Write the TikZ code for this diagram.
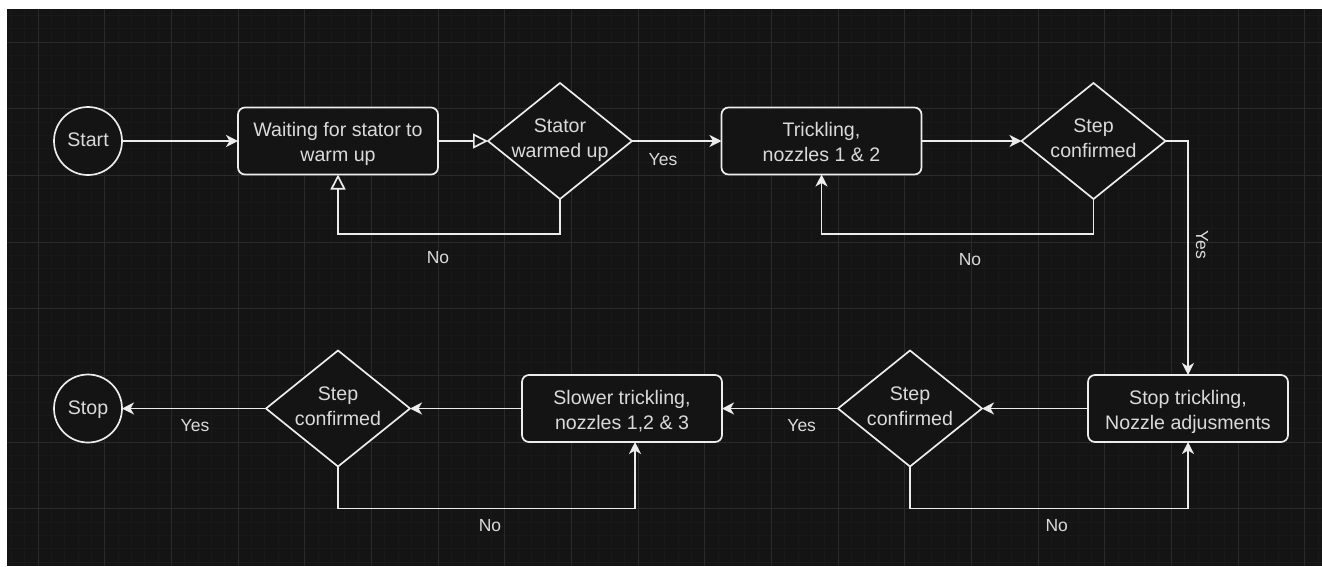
\documentclass[tikz,border=0pt]{standalone}
\usepackage{fontspec}
\setmainfont{Liberation Sans}
\usetikzlibrary{shapes.geometric,arrows.meta,calc}
\definecolor{bg}{RGB}{20,20,20}
\definecolor{gmin}{RGB}{25,25,25}
\definecolor{gmaj}{RGB}{42,42,42}
\definecolor{fg}{RGB}{236,236,236}
\definecolor{tx}{RGB}{218,218,218}
\newcommand{\ctext}[2]{\raisebox{-#1}[0pt][0pt]{\makebox[0pt]{\begin{tabular}{@{}c@{}}#2\end{tabular}}}}
\begin{document}
\begin{tikzpicture}[x=1pt,y=-1pt,
  every node/.style={inner sep=0pt, outer sep=0pt},
  base/.style={draw=fg, line width=1.7pt, fill=bg, text=tx, font=\fontsize{19.6}{25}\selectfont},
  procbox/.style={base, rectangle, rounded corners=7pt, minimum width=200pt, minimum height=67pt},
  decision/.style={base, diamond, minimum width=144pt, minimum height=116pt},
  terminal/.style={base, circle, minimum size=68pt},
  elabel/.style={text=tx, font=\fontsize{17.5}{21}\selectfont, anchor=base},
  flow/.style={draw=fg, line width=1.7pt, -{Stealth[length=12pt,width=12pt,inset=3.5pt]}},
  hollow/.style={draw=fg, line width=1.7pt, -{Triangle[open,length=15pt,width=15pt]}},
]
% page and background
\useasboundingbox (0,0) rectangle (1322,566);
\fill[white] (0,0) rectangle (1322,566);
\fill[bg] (7,9) rectangle (1322,566);
% minor grid
\foreach \i in {-2,...,96} {
  \draw[gmin, line width=0.8pt] ({38+13.3333*\i},9) -- ({38+13.3333*\i},566);
}
\foreach \j in {-2,...,39} {
  \draw[gmin, line width=0.8pt] (7,{42+13.3333*\j}) -- (1322,{42+13.3333*\j});
}
% major grid
\foreach \i in {0,...,19} {
  \draw[gmaj, line width=1pt] ({38+66.6667*\i},9) -- ({38+66.6667*\i},566);
}
\foreach \j in {0,...,7} {
  \draw[gmaj, line width=1pt] (7,{42+66.6667*\j}) -- (1322,{42+66.6667*\j});
}

% nodes
\node[terminal] (start) at (88,141) {\ctext{6pt}{Start}};
\node[procbox] (box1) at (338,141) {\ctext{8.4pt}{Waiting for stator to\\warm up}};
\node[decision] (d1) at (560,141) {\ctext{4.2pt}{Stator\\warmed up}};
\node[procbox] (box2) at (821.5,141) {\ctext{8.4pt}{Trickling,\\nozzles 1 \& 2}};
\node[decision] (d2) at (1093.5,141) {\ctext{4.2pt}{Step\\confirmed}};
\node[procbox] (box3) at (1188,408.5) {\ctext{8.4pt}{Stop trickling,\\Nozzle adjusments}};
\node[decision] (d3) at (910,408.5) {\ctext{4.2pt}{Step\\confirmed}};
\node[procbox] (box4) at (622,408.5) {\ctext{8.4pt}{Slower trickling,\\nozzles 1,2 \& 3}};
\node[decision] (d4) at (338,408.5) {\ctext{4.2pt}{Step\\confirmed}};
\node[terminal] (stop) at (88,408.5) {\ctext{6pt}{Stop}};

% connectors
\draw[flow] (start) -- (box1);
\draw[hollow] (box1) -- (d1);
\draw[flow] (d1) -- (box2);
\draw[hollow] (d1.south) -- ++(0,35) -| (box1.south);
\draw[flow] (box2) -- (d2);
\draw[flow] (d2.south) -- ++(0,35) -| (box2.south);
\draw[flow] (d2.east) -| (box3.north);
\draw[flow] (box3) -- (d3);
\draw[flow] (d3) -- (box4);
\draw[flow] (d3.south) -- ++(0,42) -| (box3.south);
\draw[flow] (box4) -- (d4);
\draw[flow] (d4.south) -- ++(0,42) -| ([xshift=13pt]box4.south);
\draw[flow] (d4) -- (stop);

% edge labels
\node[elabel] (lyes1) at (663,165) {Yes};
\node[elabel] (lno1) at (438,263.3) {No};
\node[elabel] (lno2) at (970,265) {No};
\node[text=tx, font=\fontsize{17.5}{21}\selectfont, rotate=-90] (lyes2) at (1202,245) {Yes};
\node[elabel] (lyes3) at (801.7,431.7) {Yes};
\node[elabel] (lno3) at (1056.7,531.7) {No};
\node[elabel] (lno4) at (490,531.7) {No};
\node[elabel] (lyes4) at (195,431.7) {Yes};
\end{tikzpicture}
\end{document}
